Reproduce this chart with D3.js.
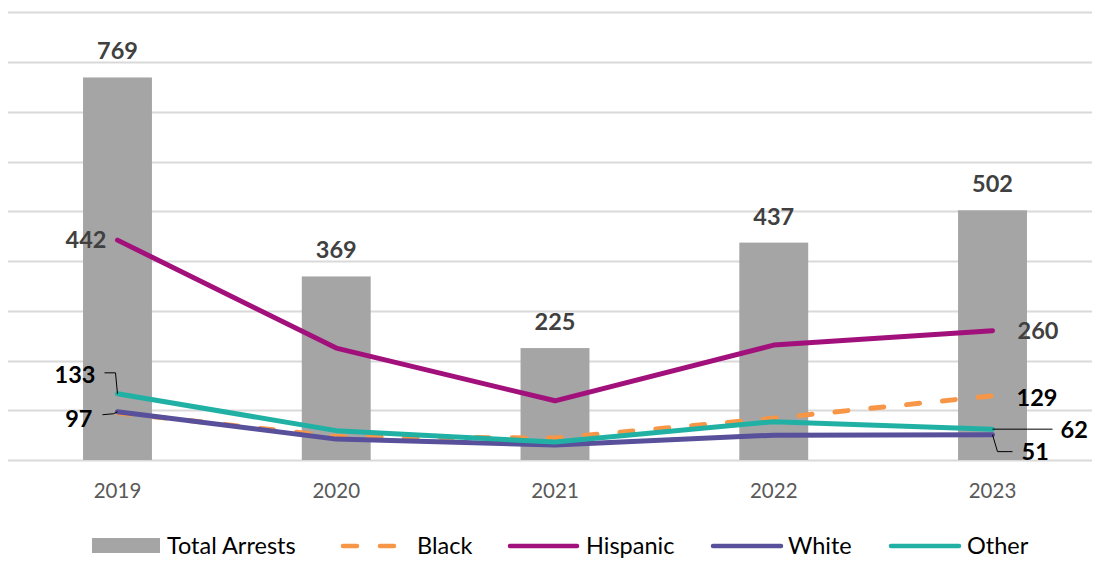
<!DOCTYPE html>
<html>
<head>
<meta charset="utf-8">
<script src="https://cdn.jsdelivr.net/npm/d3@7"></script>
<style>
  body { margin: 0; background: #fff; }
  text { font-family: Lato, "Open Sans", sans-serif; }
</style>
</head>
<body>
<div id="chart"></div>
<script>
// chart data
var years = ["2019", "2020", "2021", "2022", "2023"];
var totalArrests = [769, 369, 225, 437, 502];
var black = [95, 47, 44, 84, 129];
var hispanic = [442, 225, 119, 231, 260];
var white = [97, 42, 30, 50, 51];
var other = [133, 59, 36, 77, 62];
var yTicks = [0, 100, 200, 300, 400, 500, 600, 700, 800, 900];

var W = 1093, H = 561;
var svg = d3.select("#chart").append("svg")
    .attr("width", W)
    .attr("height", H);

// scales
var x = d3.scaleBand()
    .domain(years)
    .range([8, 1102])
    .paddingInner(0.685)
    .paddingOuter(0.343);
var y = d3.scaleLinear()
    .domain([0, 900])
    .range([460, 12.3]);
var cx = function(i) { return x(years[i]) + x.bandwidth() / 2; };

// gridlines
svg.append("g")
  .selectAll("line")
  .data(yTicks)
  .enter().append("line")
    .attr("x1", 8).attr("x2", 1092)
    .attr("y1", function(d) { return Math.round(y(d)) + 0.5; })
    .attr("y2", function(d) { return Math.round(y(d)) + 0.5; })
    .attr("stroke", "#d9d9d9")
    .attr("stroke-width", 2);

// bars
svg.append("g")
  .selectAll("rect")
  .data(totalArrests)
  .enter().append("rect")
    .attr("x", function(d, i) { return x(years[i]); })
    .attr("y", function(d) { return y(d); })
    .attr("width", x.bandwidth())
    .attr("height", function(d) { return y(0) - y(d); })
    .attr("fill", "#a5a5a5");

// bar labels
svg.append("g")
  .selectAll("text")
  .data(totalArrests)
  .enter().append("text")
    .attr("x", function(d, i) { return cx(i); })
    .attr("y", function(d) { return y(d) - 18; })
    .attr("text-anchor", "middle")
    .style("font-size", "23.5px")
    .attr("font-weight", "bold")
    .attr("fill", "#404040")
    .text(function(d) { return d; });

// x axis
var xAxis = svg.append("g")
    .attr("transform", "translate(0,460)")
    .call(d3.axisBottom(x).tickSize(0).tickPadding(23));
xAxis.select(".domain").remove();
xAxis.selectAll("text")
    .style("font-family", "Lato, sans-serif")
    .style("font-size", "20.5px")
    .attr("fill", "#595959");

// lines
var series = [
  {name: "Black", values: black, color: "#f79646", dash: "13,23"},
  {name: "Hispanic", values: hispanic, color: "#a2107c", dash: null},
  {name: "White", values: white, color: "#58509a", dash: null},
  {name: "Other", values: other, color: "#21b1a4", dash: null}
];
var line = d3.line()
    .x(function(d, i) { return cx(i); })
    .y(function(d) { return y(d); });

svg.append("g")
  .selectAll("path")
  .data(series)
  .enter().append("path")
    .attr("d", function(d) { return line(d.values); })
    .attr("fill", "none")
    .attr("stroke", function(d) { return d.color; })
    .attr("stroke-width", 5)
    .attr("stroke-linecap", "round")
    .attr("stroke-linejoin", "round")
    .attr("stroke-dasharray", function(d) { return d.dash; });

// line labels
var lab = svg.append("g")
    .style("font-size", "23.5px")
    .attr("font-weight", "bold");

lab.append("text")
    .attr("x", cx(0) - 11).attr("y", y(hispanic[0]) + 8)
    .attr("text-anchor", "end").attr("fill", "#404040")
    .text(hispanic[0]);
lab.append("text")
    .attr("x", cx(4) + 25).attr("y", y(hispanic[4]) + 8)
    .attr("fill", "#404040")
    .text(hispanic[4]);
lab.append("text")
    .attr("x", cx(4) + 24).attr("y", y(black[4]) + 10)
    .attr("fill", "#000")
    .text(black[4]);
lab.append("text")
    .attr("x", cx(0) - 22).attr("y", y(other[0]) - 11)
    .attr("text-anchor", "end").attr("fill", "#000")
    .text(other[0]);
lab.append("text")
    .attr("x", cx(0) - 25).attr("y", y(white[0]) + 15)
    .attr("text-anchor", "end").attr("fill", "#000")
    .text(white[0]);
lab.append("text")
    .attr("x", cx(4) + 68).attr("y", y(other[4]) + 9)
    .attr("fill", "#000")
    .text(other[4]);
lab.append("text")
    .attr("x", cx(4) + 29).attr("y", y(white[4]) + 25)
    .attr("fill", "#000")
    .text(white[4]);

// leader lines
var leaders = svg.append("g")
    .attr("fill", "none")
    .attr("stroke", "#000")
    .attr("stroke-width", 1);
var p0o = [cx(0), y(other[0])], p0w = [cx(0), y(white[0])];
var p4o = [cx(4), y(other[4])], p4w = [cx(4), y(white[4])];
leaders.append("path")
    .attr("d", d3.line()([[p0o[0] - 13, p0o[1] - 21], [p0o[0] - 2, p0o[1] - 21], [p0o[0], p0o[1]]]));
leaders.append("path")
    .attr("d", d3.line()([[p0w[0] - 15, p0w[1] + 3], [p0w[0] - 4, p0w[1] + 2], [p0w[0], p0w[1]]]));
leaders.append("path")
    .attr("d", d3.line()([[p4o[0], p4o[1]], [p4o[0] + 60, p4o[1]]]));
leaders.append("path")
    .attr("d", d3.line()([[p4w[0], p4w[1]], [p4w[0] + 5, p4w[1] + 17], [p4w[0] + 20, p4w[1] + 17]]));

// legend
var legend = svg.append("g").style("font-size", "23.5px").attr("fill", "#000");
legend.append("rect")
    .attr("x", 92).attr("y", 538).attr("width", 68).attr("height", 15)
    .attr("fill", "#a5a5a5");
legend.append("text").attr("x", 167).attr("y", 554).text("Total Arrests");

var legendItems = [
  {s: series[0], x1: 343, x2: 395, tx: 417},
  {s: series[1], x1: 510, x2: 577, tx: 586},
  {s: series[2], x1: 713, x2: 781, tx: 788},
  {s: series[3], x1: 891, x2: 959, tx: 967}
];
legendItems.forEach(function(it) {
  legend.append("line")
      .attr("x1", it.x1).attr("x2", it.x2)
      .attr("y1", 546).attr("y2", 546)
      .attr("stroke", it.s.color)
      .attr("stroke-width", 4.5)
      .attr("stroke-linecap", "round")
      .attr("stroke-dasharray", it.s.dash ? "14,23" : null);
  legend.append("text").attr("x", it.tx).attr("y", 554).text(it.s.name);
});
</script>
</body>
</html>
